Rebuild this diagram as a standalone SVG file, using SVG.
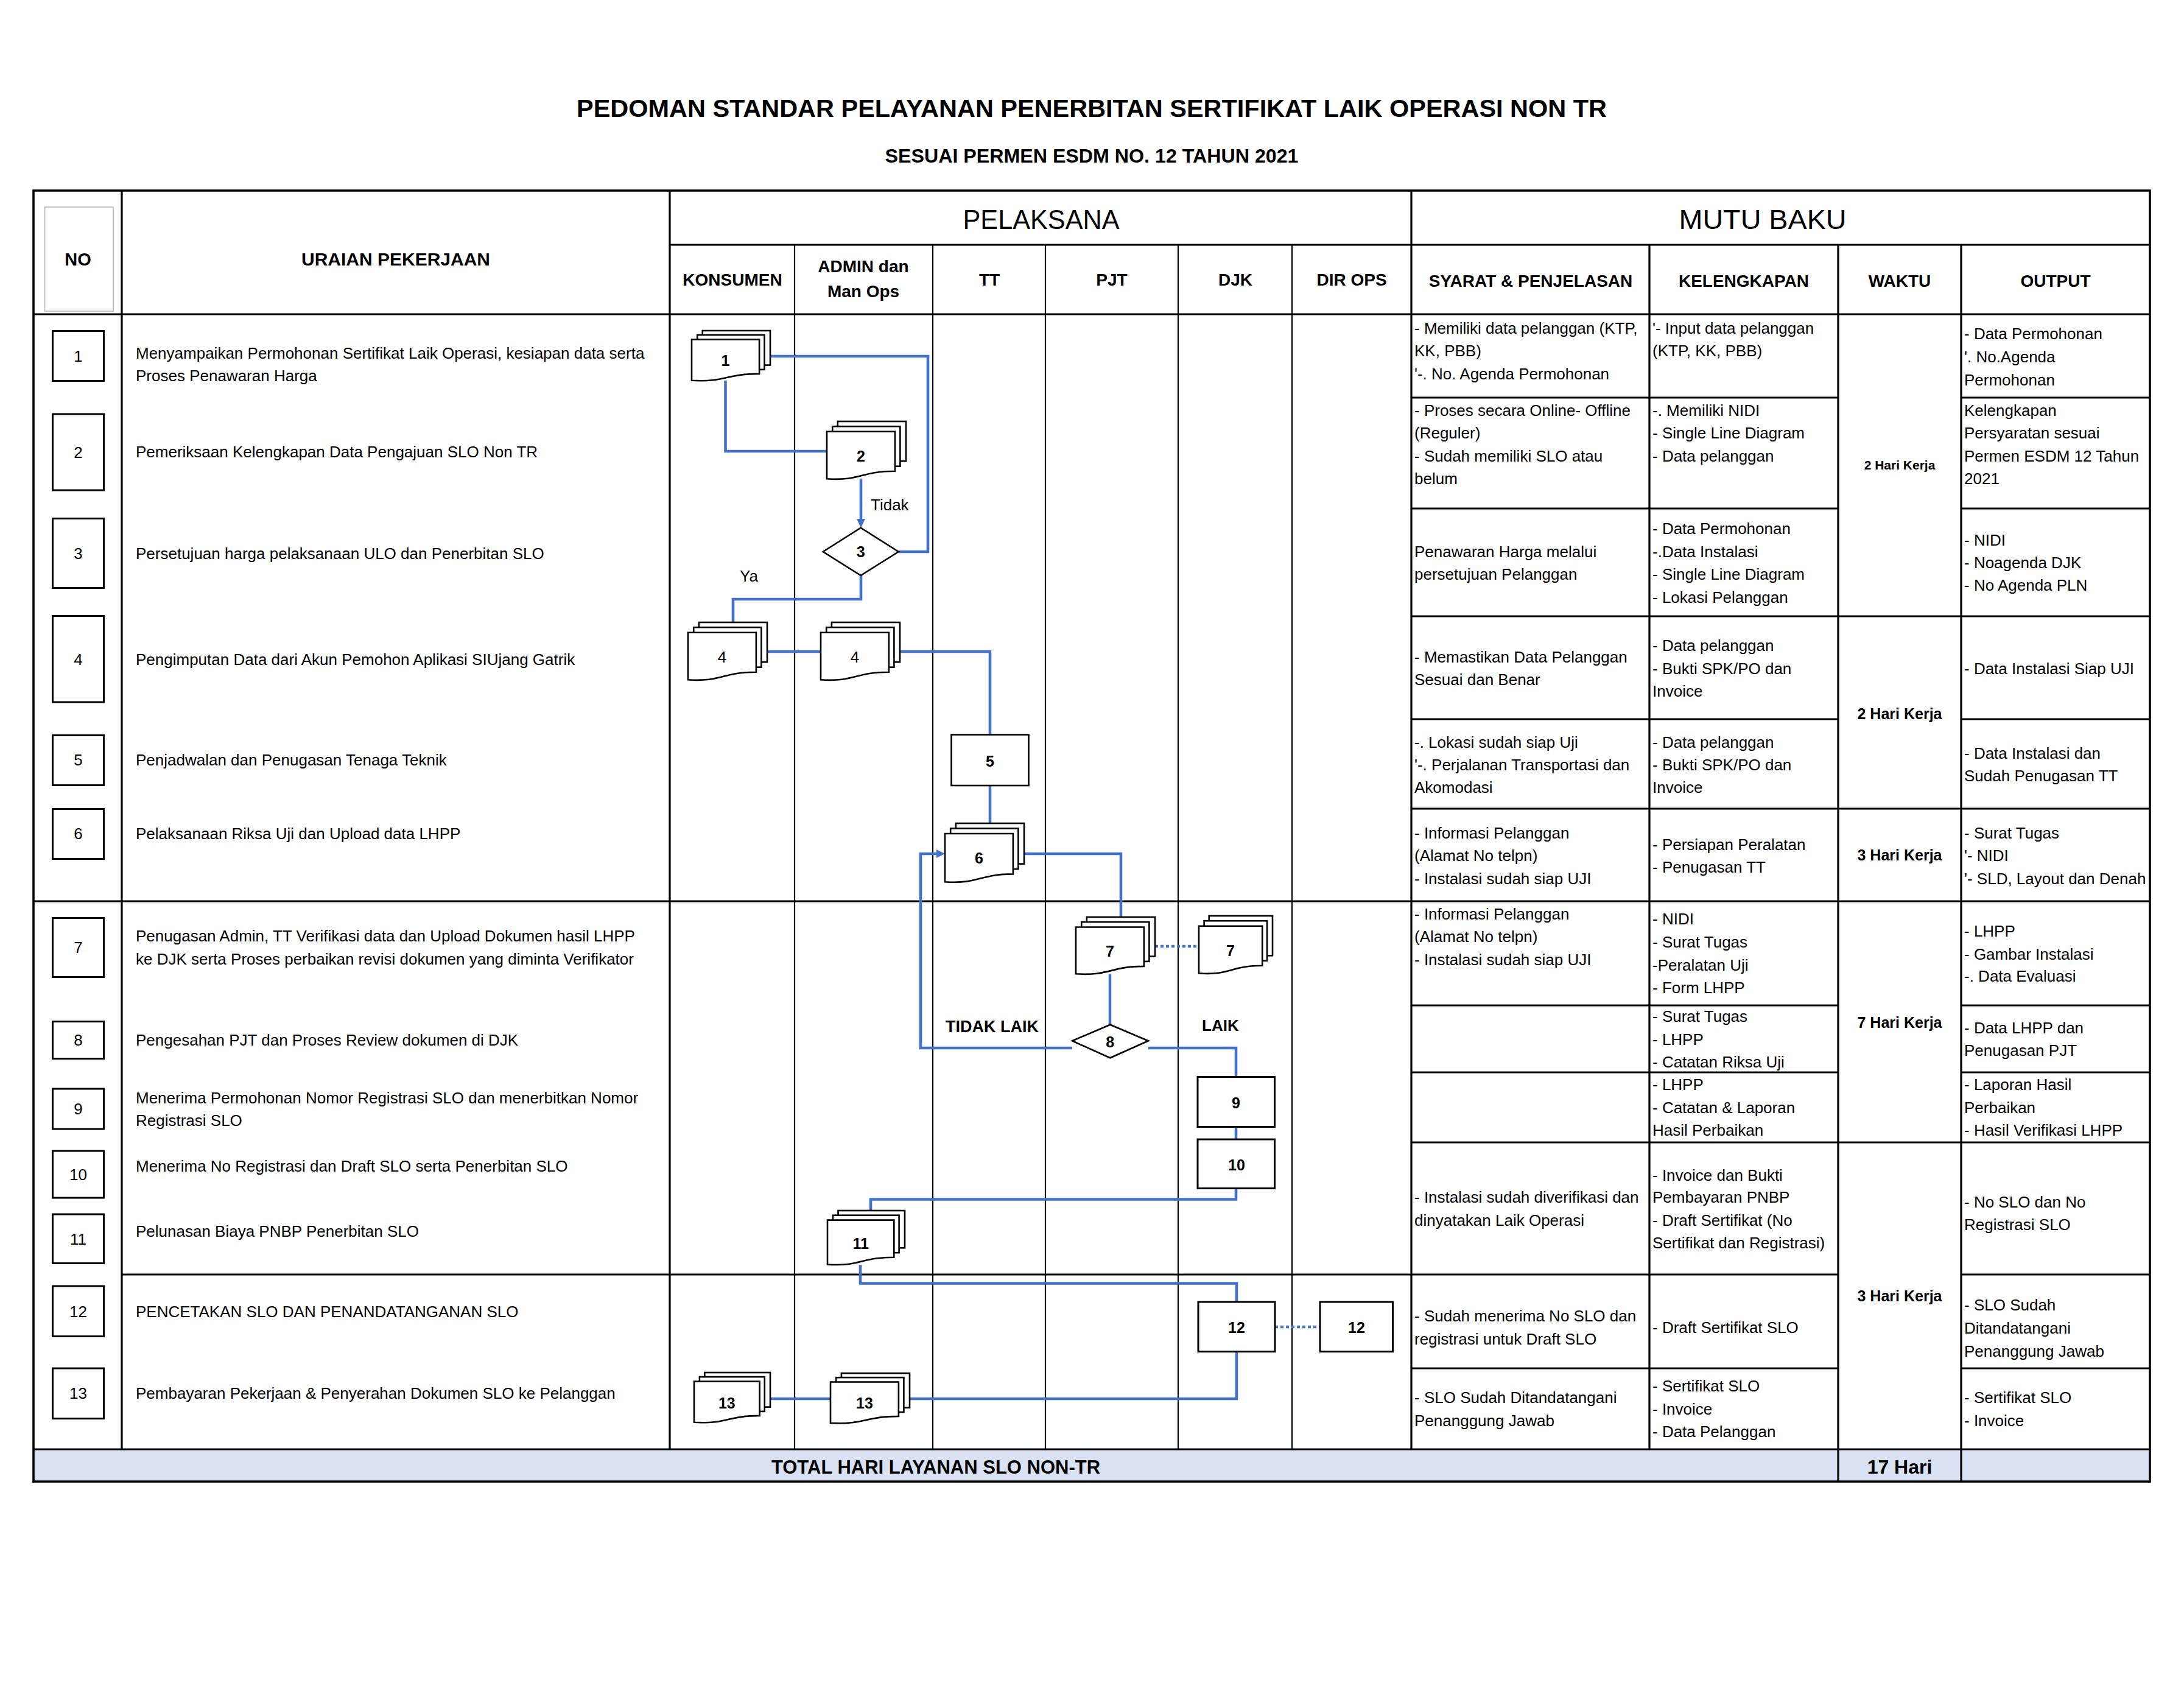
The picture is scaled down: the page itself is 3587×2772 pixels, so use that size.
<svg xmlns="http://www.w3.org/2000/svg" width="3587" height="2772" viewBox="0 0 3587 2772">
<style>
text{font-family:"Liberation Sans",Arial,sans-serif;fill:#000}
.t{font-size:26px}
.b{font-weight:bold}
.c{text-anchor:middle}
.h{font-size:28px;font-weight:bold;text-anchor:middle}
.nl{font-size:25px;font-weight:bold;text-anchor:middle}
.ln{stroke:#000;stroke-width:3.2;fill:none}
.lt{stroke:#000;stroke-width:2.2;fill:none}
.con{stroke:#4472C4;stroke-width:4.6;fill:none}
.sh{fill:#fff;stroke:#000;stroke-width:2.6}
.nb{fill:#fff;stroke:#000;stroke-width:3}
</style>
<rect x="0" y="0" width="3587" height="2772" fill="#fff"/>

<g id="title">
<text x="1793" y="192" class="b c" font-size="40" textLength="1692" lengthAdjust="spacingAndGlyphs">PEDOMAN STANDAR PELAYANAN PENERBITAN SERTIFIKAT LAIK OPERASI NON TR</text>
<text x="1793" y="267" class="b c" font-size="31" textLength="679" lengthAdjust="spacingAndGlyphs">SESUAI PERMEN ESDM NO. 12 TAHUN 2021</text>
</g>

<g id="table">
<rect x="55" y="2380" width="3476" height="53" fill="#D9E1F2"/>
<rect x="73.5" y="340" width="112.5" height="171" fill="none" stroke="#C4C4C4" stroke-width="2"/>
<rect x="55" y="313" width="3476" height="2120" fill="none" stroke="#000" stroke-width="3.6"/>
<path class="ln" d="M1100,402H3531M55,516H3531M55,1480H3531M200,2093H3019M3221,2093H3531M55,2380H3531"/>
<path class="ln" d="M200,313V2380M1100,313V2380M2318,313V2380M2709,402V2380M3019,402V2433M3221,402V2433"/>
<path class="lt" d="M1305,402V2380M1532,402V2380M1717,402V2380M1935,402V2380M2122,402V2380"/>
<path class="ln" d="M2318,653H3019M3221,653H3531M2318,835H3019M3221,835H3531M2318,1012H3531M2318,1181H3019M3221,1181H3531M2318,1328H3531M2318,1651H3019M3221,1651H3531M2318,1761H3019M3221,1761H3531M2318,1876H3531M2318,2247H3019M3221,2247H3531"/>
</g>

<g id="headers">
<text x="128" y="436" class="b c" font-size="29">NO</text>
<text x="650" y="436" class="b c" font-size="30">URAIAN PEKERJAAN</text>
<text x="1710" y="376" class="c" font-size="45" textLength="257" lengthAdjust="spacingAndGlyphs">PELAKSANA</text>
<text x="2895" y="376" class="c" font-size="45" textLength="275" lengthAdjust="spacingAndGlyphs">MUTU BAKU</text>
<text x="1203" y="469" class="h">KONSUMEN</text>
<text x="1418" y="447" class="h">ADMIN dan</text>
<text x="1418" y="488" class="h">Man Ops</text>
<text x="1625" y="469" class="h">TT</text>
<text x="1826" y="469" class="h">PJT</text>
<text x="2029" y="469" class="h">DJK</text>
<text x="2220" y="469" class="h">DIR OPS</text>
<text x="2514" y="471" class="h" font-size="27">SYARAT &amp; PENJELASAN</text>
<text x="2864" y="471" class="h" font-size="27">KELENGKAPAN</text>
<text x="3120" y="471" class="h" font-size="27">WAKTU</text>
<text x="3376" y="471" class="h" font-size="27">OUTPUT</text>
</g>

<g id="no-col">
<rect class="nb" x="86.5" y="543.5" width="84" height="82"/>
<rect class="nb" x="86.5" y="680" width="84" height="125"/>
<rect class="nb" x="86.5" y="851.5" width="84" height="114"/>
<rect class="nb" x="86.5" y="1011.5" width="84" height="141.5"/>
<rect class="nb" x="86.5" y="1207.5" width="84" height="82"/>
<rect class="nb" x="86.5" y="1328.5" width="84" height="82"/>
<rect class="nb" x="86.5" y="1507.5" width="84" height="97"/>
<rect class="nb" x="86.5" y="1677.5" width="84" height="61"/>
<rect class="nb" x="86.5" y="1788" width="84" height="66"/>
<rect class="nb" x="86.5" y="1890" width="84" height="77"/>
<rect class="nb" x="86.5" y="1994" width="84" height="80.5"/>
<rect class="nb" x="86.5" y="2112" width="84" height="82.5"/>
<rect class="nb" x="86.5" y="2247" width="84" height="82.5"/>
<text class="t c" x="128.5" y="594">1</text>
<text class="t c" x="128.5" y="752">2</text>
<text class="t c" x="128.5" y="918">3</text>
<text class="t c" x="128.5" y="1092">4</text>
<text class="t c" x="128.5" y="1257">5</text>
<text class="t c" x="128.5" y="1378">6</text>
<text class="t c" x="128.5" y="1565">7</text>
<text class="t c" x="128.5" y="1717">8</text>
<text class="t c" x="128.5" y="1830">9</text>
<text class="t c" x="128.5" y="1938">10</text>
<text class="t c" x="128.5" y="2044">11</text>
<text class="t c" x="128.5" y="2163">12</text>
<text class="t c" x="128.5" y="2297">13</text>
</g>

<g id="uraian" class="t">
<text x="223" y="589">Menyampaikan Permohonan Sertifikat Laik Operasi, kesiapan data serta</text>
<text x="223" y="626">Proses Penawaran Harga</text>
<text x="223" y="751">Pemeriksaan Kelengkapan Data Pengajuan SLO Non TR</text>
<text x="223" y="918">Persetujuan harga pelaksanaan ULO dan Penerbitan SLO</text>
<text x="223" y="1092">Pengimputan Data dari Akun Pemohon Aplikasi SIUjang Gatrik</text>
<text x="223" y="1257">Penjadwalan dan Penugasan Tenaga Teknik</text>
<text x="223" y="1378">Pelaksanaan Riksa Uji dan Upload data LHPP</text>
<text x="223" y="1546">Penugasan Admin, TT Verifikasi data dan Upload Dokumen hasil LHPP</text>
<text x="223" y="1584">ke DJK serta Proses perbaikan revisi dokumen yang diminta Verifikator</text>
<text x="223" y="1717">Pengesahan PJT dan Proses Review dokumen di DJK</text>
<text x="223" y="1812">Menerima Permohonan Nomor Registrasi SLO dan menerbitkan Nomor</text>
<text x="223" y="1849">Registrasi SLO</text>
<text x="223" y="1924">Menerima No Registrasi dan Draft SLO serta Penerbitan SLO</text>
<text x="223" y="2031">Pelunasan Biaya PNBP Penerbitan SLO</text>
<text x="223" y="2163">PENCETAKAN SLO DAN PENANDATANGANAN SLO</text>
<text x="223" y="2297">Pembayaran Pekerjaan &amp; Penyerahan Dokumen SLO ke Pelanggan</text>
</g>

<g id="connectors">
<path class="con" d="M1265,585H1524V906H1476"/>
<path class="con" d="M1191.5,625V741H1358"/>
<path class="con" d="M1414,786V854"/>
<polygon points="1407,852 1421,852 1414,867" fill="#4472C4"/>
<path class="con" d="M1414,945V984H1204V1022"/>
<path class="con" stroke-width="5.5" d="M1260,1070H1348"/>
<path class="con" stroke="#5B9BD5" stroke-width="4" d="M1478,1070H1626V1206"/>
<path class="con" stroke-width="4" d="M1626,1290V1352"/>
<path class="con" stroke-width="5" d="M1682,1402H1841V1506"/>
<path class="con" d="M1761,1721H1512V1402H1540"/>
<polygon points="1538,1395 1538,1409 1552,1402" fill="#4472C4"/>
<path class="con" d="M1823,1600V1683"/>
<path class="con" stroke="#2E75B6" d="M1886,1721H2030V1768"/>
<path class="con" d="M2030,1851V1871"/>
<path class="con" d="M2030,1951V1969.5H1430V1988"/>
<path class="con" d="M1413,2077V2107.5H2031V2138"/>
<path class="con" d="M2031,2220V2297H1494"/>
<path class="con" d="M1364,2297H1265"/>
<path class="con" stroke-dasharray="5 4" d="M1897,1554H1969"/>
<path class="con" stroke-dasharray="5 4" d="M2094,2179H2168"/>
</g>

<g id="flow-labels">
<text class="t" x="1430" y="838" font-size="25">Tidak</text>
<text class="t" x="1215" y="955" font-size="25">Ya</text>
<text class="b" x="1553" y="1695" font-size="27">TIDAK LAIK</text>
<text class="b" x="1974" y="1693" font-size="26">LAIK</text>
</g>

<g id="n1">
<rect class="sh" x="1153.8" y="543" width="111.2" height="56.6"/>
<rect class="sh" x="1145.2" y="550.1" width="110.3" height="56.8"/>
<path class="sh" d="M1136,557.5H1247.1V613.9C1191.5,613.9 1191.5,628 1136,624.8Z"/>
<text class="nl" x="1191.5" y="601">1</text>
</g>
<g id="n2">
<rect class="sh" x="1375.9" y="692" width="112.1" height="65.3"/>
<rect class="sh" x="1367.2" y="700.2" width="111.2" height="65.5"/>
<path class="sh" d="M1358,708.7H1469.9V773.7C1413.9,773.7 1413.9,790 1358,786.3Z"/>
<text class="nl" x="1413.9" y="758">2</text>
</g>
<g id="n3">
<polygon class="sh" points="1351.7,906 1413.7,866.7 1475.7,906 1413.7,945"/>
<text class="nl" x="1413.7" y="915">3</text>
</g>
<g id="n4-konsumen">
<rect class="sh" x="1147.9" y="1022" width="112.1" height="65.3"/>
<rect class="sh" x="1139.2" y="1030.2" width="111.2" height="65.5"/>
<path class="sh" d="M1130,1038.7H1241.9V1103.7C1185.9,1103.7 1185.9,1120 1130,1116.3Z"/>
<text class="t c" x="1185.9" y="1088" font-size="25">4</text>
</g>
<g id="n4-admin">
<rect class="sh" x="1365.9" y="1022" width="112.1" height="65.3"/>
<rect class="sh" x="1357.2" y="1030.2" width="111.2" height="65.5"/>
<path class="sh" d="M1348,1038.7H1459.9V1103.7C1403.9,1103.7 1403.9,1120 1348,1116.3Z"/>
<text class="t c" x="1403.9" y="1088" font-size="25">4</text>
</g>
<g id="n5">
<rect class="sh" x="1562.5" y="1206.5" width="127" height="83.5"/>
<text class="nl" x="1626" y="1259">5</text>
</g>
<g id="n6">
<rect class="sh" x="1569.9" y="1352" width="112.1" height="66.6"/>
<rect class="sh" x="1561.2" y="1360.4" width="111.2" height="66.8"/>
<path class="sh" d="M1552,1369H1663.9V1435.4C1607.9,1435.4 1607.9,1452 1552,1448.2Z"/>
<text class="nl" x="1607.9" y="1418">6</text>
</g>
<g id="n7-pjt">
<rect class="sh" x="1784.9" y="1506" width="112.1" height="64.6"/>
<rect class="sh" x="1776.2" y="1514.1" width="111.2" height="64.8"/>
<path class="sh" d="M1767,1522.5H1878.9V1586.9C1822.9,1586.9 1822.9,1603 1767,1599.3Z"/>
<text class="nl" x="1822.9" y="1571">7</text>
</g>
<g id="n7-djk">
<rect class="sh" x="1985.7" y="1504" width="104.3" height="65.3"/>
<rect class="sh" x="1977.6" y="1512.2" width="103.4" height="65.5"/>
<path class="sh" d="M1969,1520.7H2073.2V1585.7C2021,1585.7 2021,1602 1969,1598.3Z"/>
<text class="nl" x="2021" y="1570">7</text>
</g>
<g id="n8">
<polygon class="sh" points="1761,1709.3 1823.3,1682.7 1886,1709.3 1823.3,1737.3"/>
<text class="nl" x="1823.3" y="1720">8</text>
</g>
<g id="n9">
<rect class="nb" x="1967" y="1768.5" width="126.5" height="82"/>
<text class="nl" x="2030" y="1820">9</text>
</g>
<g id="n10">
<rect class="nb" x="1967" y="1871" width="126.5" height="80.5"/>
<text class="nl" x="2031" y="1922">10</text>
</g>
<g id="n11">
<rect class="sh" x="1376.5" y="1988" width="109.5" height="61.3"/>
<rect class="sh" x="1368" y="1995.7" width="108.6" height="61.5"/>
<path class="sh" d="M1359,2003.6H1468.3V2064.7C1413.6,2064.7 1413.6,2080 1359,2076.5Z"/>
<text class="nl" x="1413.6" y="2051">11</text>
</g>
<g id="n12-djk">
<rect class="nb" x="1968" y="2138" width="126" height="81.5"/>
<text class="nl" x="2031" y="2189">12</text>
</g>
<g id="n12-dirops">
<rect class="nb" x="2168" y="2138" width="119.5" height="81.5"/>
<text class="nl" x="2228" y="2189">12</text>
</g>
<g id="n13-konsumen">
<rect class="sh" x="1157.3" y="2254" width="107.7" height="56.6"/>
<rect class="sh" x="1148.9" y="2261.1" width="106.9" height="56.8"/>
<path class="sh" d="M1140,2268.5H1247.6V2324.9C1193.8,2324.9 1193.8,2339 1140,2335.8Z"/>
<text class="nl" x="1193.8" y="2313">13</text>
</g>
<g id="n13-admin">
<rect class="sh" x="1381.9" y="2255" width="112.1" height="56.6"/>
<rect class="sh" x="1373.2" y="2262.1" width="111.2" height="56.8"/>
<path class="sh" d="M1364,2269.5H1475.9V2325.9C1419.9,2325.9 1419.9,2340 1364,2336.8Z"/>
<text class="nl" x="1419.9" y="2313">13</text>
</g>

<g id="syarat" class="t">
<text x="2323" y="548">- Memiliki data pelanggan (KTP,</text>
<text x="2323" y="585">KK, PBB)</text>
<text x="2323" y="623">'-. No. Agenda Permohonan</text>
<text x="2323" y="683">- Proses secara Online- Offline</text>
<text x="2323" y="720">(Reguler)</text>
<text x="2323" y="758">- Sudah memiliki SLO atau</text>
<text x="2323" y="795">belum</text>
<text x="2323" y="915">Penawaran Harga melalui</text>
<text x="2323" y="952">persetujuan Pelanggan</text>
<text x="2323" y="1088">- Memastikan Data Pelanggan</text>
<text x="2323" y="1125">Sesuai dan Benar</text>
<text x="2323" y="1228">-. Lokasi sudah siap Uji</text>
<text x="2323" y="1265">'-. Perjalanan Transportasi dan</text>
<text x="2323" y="1302">Akomodasi</text>
<text x="2323" y="1377">- Informasi Pelanggan</text>
<text x="2323" y="1414">(Alamat No telpn)</text>
<text x="2323" y="1452">- Instalasi sudah siap UJI</text>
<text x="2323" y="1510">- Informasi Pelanggan</text>
<text x="2323" y="1547">(Alamat No telpn)</text>
<text x="2323" y="1585">- Instalasi sudah siap UJI</text>
<text x="2323" y="1975">- Instalasi sudah diverifikasi dan</text>
<text x="2323" y="2013">dinyatakan Laik Operasi</text>
<text x="2323" y="2170">- Sudah menerima No SLO dan</text>
<text x="2323" y="2208">registrasi untuk Draft SLO</text>
<text x="2323" y="2304">- SLO Sudah Ditandatangani</text>
<text x="2323" y="2342">Penanggung Jawab</text>
</g>

<g id="kelengkapan" class="t">
<text x="2714" y="548">'- Input data pelanggan</text>
<text x="2714" y="585">(KTP, KK, PBB)</text>
<text x="2714" y="683">-. Memiliki NIDI</text>
<text x="2714" y="720">- Single Line Diagram</text>
<text x="2714" y="758">- Data pelanggan</text>
<text x="2714" y="877">- Data Permohonan</text>
<text x="2714" y="915">-.Data Instalasi</text>
<text x="2714" y="952">- Single Line Diagram</text>
<text x="2714" y="990">- Lokasi Pelanggan</text>
<text x="2714" y="1069">- Data pelanggan</text>
<text x="2714" y="1107">- Bukti SPK/PO dan</text>
<text x="2714" y="1144">Invoice</text>
<text x="2714" y="1228">- Data pelanggan</text>
<text x="2714" y="1265">- Bukti SPK/PO dan</text>
<text x="2714" y="1302">Invoice</text>
<text x="2714" y="1396">- Persiapan Peralatan</text>
<text x="2714" y="1433">- Penugasan TT</text>
<text x="2714" y="1518">- NIDI</text>
<text x="2714" y="1556">- Surat Tugas</text>
<text x="2714" y="1594">-Peralatan Uji</text>
<text x="2714" y="1631">- Form LHPP</text>
<text x="2714" y="1678">- Surat Tugas</text>
<text x="2714" y="1716">- LHPP</text>
<text x="2714" y="1753">- Catatan Riksa Uji</text>
<text x="2714" y="1790">- LHPP</text>
<text x="2714" y="1828">- Catatan &amp; Laporan</text>
<text x="2714" y="1865">Hasil Perbaikan</text>
<text x="2714" y="1939">- Invoice dan Bukti</text>
<text x="2714" y="1975">Pembayaran PNBP</text>
<text x="2714" y="2013">- Draft Sertifikat (No</text>
<text x="2714" y="2050">Sertifikat dan Registrasi)</text>
<text x="2714" y="2189">- Draft Sertifikat SLO</text>
<text x="2714" y="2285">- Sertifikat SLO</text>
<text x="2714" y="2323">- Invoice</text>
<text x="2714" y="2360">- Data Pelanggan</text>
</g>

<g id="waktu" class="b c">
<text x="3120" y="771" font-size="21">2 Hari Kerja</text>
<text x="3120" y="1181" font-size="25">2 Hari Kerja</text>
<text x="3120" y="1413" font-size="25">3 Hari Kerja</text>
<text x="3120" y="1688" font-size="25">7 Hari Kerja</text>
<text x="3120" y="2137" font-size="25">3 Hari Kerja</text>
</g>

<g id="output" class="t">
<text x="3226" y="557">- Data Permohonan</text>
<text x="3226" y="595">'. No.Agenda</text>
<text x="3226" y="633">Permohonan</text>
<text x="3226" y="683">Kelengkapan</text>
<text x="3226" y="720">Persyaratan sesuai</text>
<text x="3226" y="758">Permen ESDM 12 Tahun</text>
<text x="3226" y="795">2021</text>
<text x="3226" y="896">- NIDI</text>
<text x="3226" y="933">- Noagenda DJK</text>
<text x="3226" y="970">- No Agenda PLN</text>
<text x="3226" y="1107">- Data Instalasi Siap UJI</text>
<text x="3226" y="1246">- Data Instalasi dan</text>
<text x="3226" y="1283">Sudah Penugasan TT</text>
<text x="3226" y="1377">- Surat Tugas</text>
<text x="3226" y="1414">'- NIDI</text>
<text x="3226" y="1452">'- SLD, Layout dan Denah</text>
<text x="3226" y="1538">- LHPP</text>
<text x="3226" y="1576">- Gambar Instalasi</text>
<text x="3226" y="1612">-. Data Evaluasi</text>
<text x="3226" y="1697">- Data LHPP dan</text>
<text x="3226" y="1734">Penugasan PJT</text>
<text x="3226" y="1790">- Laporan Hasil</text>
<text x="3226" y="1828">Perbaikan</text>
<text x="3226" y="1865">- Hasil Verifikasi LHPP</text>
<text x="3226" y="1983">- No SLO dan No</text>
<text x="3226" y="2020">Registrasi SLO</text>
<text x="3226" y="2152">- SLO Sudah</text>
<text x="3226" y="2190">Ditandatangani</text>
<text x="3226" y="2228">Penanggung Jawab</text>
<text x="3226" y="2304">- Sertifikat SLO</text>
<text x="3226" y="2342">- Invoice</text>
</g>

<g id="total">
<text x="1537" y="2420" class="b c" font-size="31">TOTAL HARI LAYANAN SLO NON-TR</text>
<text x="3120" y="2420" class="b c" font-size="32">17 Hari</text>
</g>
</svg>
